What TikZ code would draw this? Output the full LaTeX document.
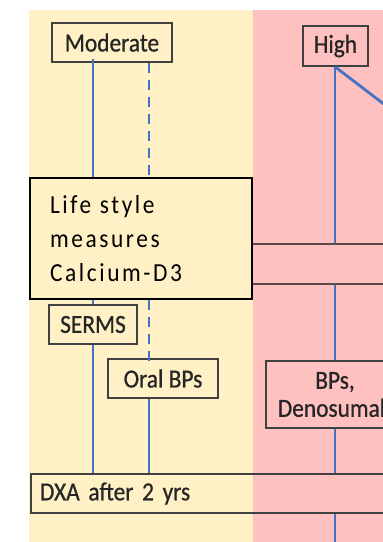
\documentclass[tikz,border=0pt]{standalone}
\usepackage{fontspec}
\setmainfont{Carlito}[FakeStretch=0.9, FakeBold=0.8]
\newfontfamily\lifefont{Carlito}[FakeStretch=0.9, LetterSpace=10]
\definecolor{bgyellow}{HTML}{FFF1C5}
\definecolor{bgpink}{HTML}{FFC0C0}
\definecolor{lineblue}{HTML}{4472C4}
\definecolor{boxgray}{HTML}{404040}
\definecolor{midgray}{HTML}{5A4A4A}
\tikzset{
  box/.style={draw=boxgray, line width=1.6pt, inner sep=0pt, text=black!85, font=\fontsize{26}{30}\selectfont},
  link/.style={draw=lineblue, line width=2.8pt},
  dlink/.style={link, dash pattern=on 10pt off 7pt},
}
\begin{document}
\begin{tikzpicture}[x=1pt,y=-1pt]
\useasboundingbox (0,0) rectangle (383,542);
% background panels
\fill[bgyellow] (29,10) rectangle (253,542);
\fill[bgpink] (253,10) rectangle (383,542);
% helper coordinates for connector columns
\coordinate (cA) at (93,0);
\coordinate (cB) at (149,0);
\coordinate (cC) at (335,0);
\coordinate (offHigh) at (431,140);
\coordinate (offBottom) at (335,560);
% nodes
\node[box, fill=bgyellow, minimum width=120pt, minimum height=39pt] (mod) at (112,42.5) {Moderate};
\node[box, fill=bgpink, minimum width=65pt, minimum height=40pt] (high) at (335.5,46) {High};
\node[box, draw=midgray, line width=2pt, fill=bgpink, minimum width=360pt, minimum height=40pt] (mid) at (420,264) {};
\node[box, draw=black, line width=2pt, text=black, fill=bgyellow, minimum width=222pt, minimum height=121pt,
      text width=182pt, inner xsep=20pt, align=left,
      font=\lifefont\fontsize{26}{34}\selectfont] (life) at (141,238.5)
      {Life style\\measures\\Calcium-D3};
\node[box, fill=bgyellow, minimum width=88pt, minimum height=39pt] (serms) at (93,324.5) {SERMS};
\node[box, fill=bgyellow, minimum width=110pt, minimum height=39pt] (oral) at (163,378.5) {Oral BPs};
\node[box, fill=bgpink, minimum width=138pt, minimum height=67pt, align=center,
      font=\fontsize{26}{28}\selectfont] (bps) at (335,394.5) {BPs,\\Denosumab};
\node[box, fill=none, minimum width=500pt, minimum height=39pt, text width=482pt, inner xsep=9pt, align=left] (dxa) at (281,493.5) {DXA after 2 yrs};
% connectors
\draw[link] ([yshift=4pt]mod.south -| cA) -- (life.north -| cA);
\draw[link] (life.south -| cA) -- (serms.north -| cA);
\draw[link] (serms.south -| cA) -- (dxa.north -| cA);
\draw[dlink] (mod.south -| cB) -- (life.north -| cB);
\draw[dlink] (life.south -| cB) -- ([yshift=-9pt]oral.north -| cB);
\draw[link] (oral.south -| cB) -- (dxa.north -| cB);
\draw[link] (high.south -| cC) -- (mid.north -| cC);
\draw[link] (high.south -| cC) -- (offHigh);
\draw[link] (mid.south -| cC) -- (bps.north -| cC);
\draw[link] (bps.south -| cC) -- (dxa.north -| cC);
\draw[link] (dxa.south -| cC) -- (offBottom);
\end{tikzpicture}
\end{document}
